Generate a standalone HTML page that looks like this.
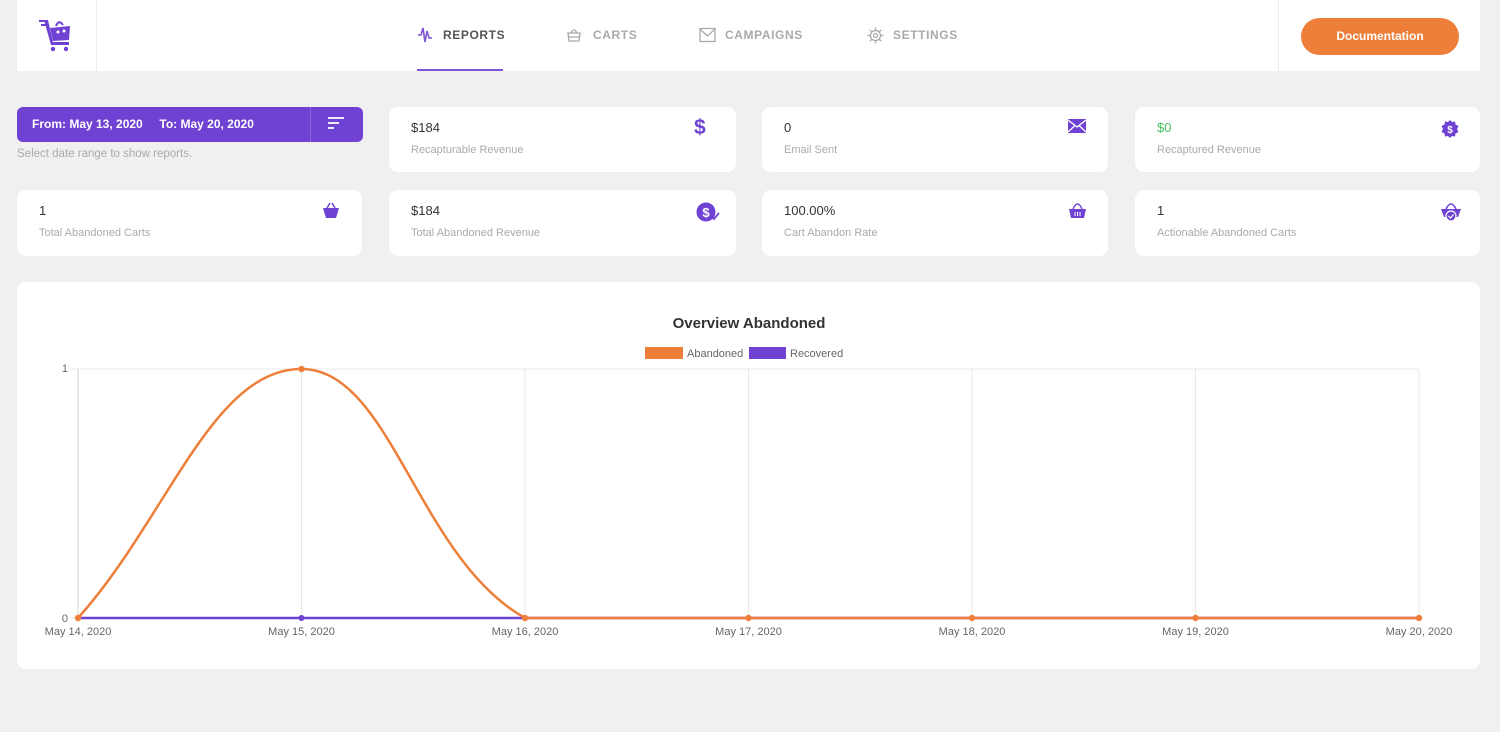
<!DOCTYPE html>
<html><head><meta charset="utf-8">
<style>
*{margin:0;padding:0;box-sizing:border-box}
html,body{width:1500px;height:732px;overflow:hidden;background:#f0f0f0;font-family:"Liberation Sans",sans-serif}
.abs{position:absolute}
.hdr{left:17px;top:0;width:1463px;height:71px;background:#fff}
.nav{top:28px;font-size:12px;font-weight:bold;letter-spacing:0.6px;color:#aaa;line-height:14px}
.card{background:#fff;border-radius:9px;height:65px}
.val{position:absolute;left:22px;top:13px;font-size:13px;color:#333}
.lbl{position:absolute;left:22px;top:37px;font-size:11px;color:#aaa}
.ico{position:absolute;top:12px}
</style></head><body>
<div class="abs hdr"></div>
<div class="abs" style="left:96px;top:0;width:1px;height:71px;background:#ececec"></div>
<div class="abs" style="left:1278px;top:0;width:1px;height:71px;background:#ececec"></div>
<!-- logo -->
<svg class="abs" style="left:36px;top:16px" width="40" height="40" viewBox="0 0 40 40">
<g fill="#6f42d4">
<rect x="3" y="4" width="7" height="2"/><rect x="5" y="8" width="5" height="2"/>
<path d="M8 4 L12 4 L17 26 L33 26 L33 29 L15 29 Z"/>
<path d="M14 12 L34 10 L33 24 L17 25 Z"/>
<circle cx="17" cy="33" r="2.2"/><circle cx="30" cy="33" r="2.2"/>
</g>
<path d="M20 10 Q23 3 27 9" stroke="#6f42d4" stroke-width="2" fill="none"/>
<circle cx="22" cy="16" r="1.5" fill="#fff"/><circle cx="28" cy="15" r="1.5" fill="#fff"/>
</svg>
<!-- nav -->
<svg class="abs" style="left:417px;top:26px" width="16" height="18" viewBox="0 0 16 18"><path d="M1 9 L4 9 L6 2 L8 16 L10 5 L12 12 L15 12" stroke="#7b55d6" stroke-width="1.6" fill="none"/></svg>
<div class="abs nav" style="left:443px;color:#555">REPORTS</div>
<div class="abs" style="left:417px;top:69px;width:86px;height:2px;background:#7b55d6"></div>
<svg class="abs" style="left:566px;top:27px" width="16" height="16" viewBox="0 0 16 16"><path d="M2 6 L14 6 L13 14 L3 14 Z M5 6 Q8 0 11 6 M2 10 L14 10" stroke="#aaa" stroke-width="1.3" fill="none"/></svg>
<div class="abs nav" style="left:593px">CARTS</div>
<svg class="abs" style="left:699px;top:27px" width="17" height="16" viewBox="0 0 17 16"><rect x="1" y="1.5" width="15" height="13" stroke="#aaa" stroke-width="1.3" fill="none"/><path d="M1 2 L8.5 9 L16 2" stroke="#aaa" stroke-width="1.3" fill="none"/></svg>
<div class="abs nav" style="left:725px">CAMPAIGNS</div>
<svg class="abs" style="left:867px;top:27px" width="17" height="17" viewBox="0 0 17 17"><circle cx="8.5" cy="8.5" r="5" stroke="#aaa" stroke-width="1.3" fill="none"/><circle cx="8.5" cy="8.5" r="2" stroke="#aaa" stroke-width="1.2" fill="none"/><path d="M8.5 0.5V3M8.5 14V16.5M0.5 8.5H3M14 8.5H16.5M2.8 2.8L4.6 4.6M12.4 12.4L14.2 14.2M2.8 14.2L4.6 12.4M12.4 4.6L14.2 2.8" stroke="#aaa" stroke-width="1.3"/></svg>
<div class="abs nav" style="left:893px">SETTINGS</div>
<div class="abs" style="left:1301px;top:18px;width:158px;height:37px;border-radius:19px;background:#ee7f3b;color:#fff;font-size:12px;font-weight:bold;text-align:center;line-height:37px">Documentation</div>

<!-- date -->
<div class="abs" style="left:17px;top:107px;width:346px;height:35px;background:#6f42d4;border-radius:6px"></div>
<div class="abs" style="left:310px;top:107px;width:1px;height:35px;background:#8a66dc"></div>
<div class="abs" style="left:32px;top:117px;font-size:12px;font-weight:bold;color:#fff;white-space:pre">From: May 13, 2020     To: May 20, 2020</div>
<svg class="abs" style="left:327px;top:116px" width="18" height="16" viewBox="0 0 18 16"><path d="M1 2H17M1 7H12M1 12H7" stroke="#fff" stroke-width="1.7"/></svg>
<div class="abs" style="left:17px;top:148px;font-size:11.5px;color:#aaa">Select date range to show reports.</div>

<!-- row1 -->
<div class="abs card" style="left:389px;top:107px;width:347px">
<div class="val">$184</div><div class="lbl">Recapturable Revenue</div>
<div class="ico" style="left:305px;top:9px;font-size:21px;font-weight:bold;color:#6f42d4">$</div></div>
<div class="abs card" style="left:762px;top:107px;width:346px">
<div class="val">0</div><div class="lbl">Email Sent</div>
<svg class="ico" style="left:306px" width="18" height="14" viewBox="0 0 18 14"><rect width="18" height="14" fill="#6f42d4"/><path d="M0 1L9 8L18 1M0 13L7 6.5M18 13L11 6.5" stroke="#fff" stroke-width="1.3" fill="none"/></svg></div>
<div class="abs card" style="left:1135px;top:107px;width:345px">
<div class="val" style="color:#3fbf5a">$0</div><div class="lbl">Recaptured Revenue</div>
<svg class="ico" style="left:306px;top:13px" width="18" height="18" viewBox="0 0 18 18"><path d="M9 0L11 2L14 1.5L14.5 4.5L17.5 6L16 9L17.5 12L14.5 13.5L14 16.5L11 16L9 18L7 16L4 16.5L3.5 13.5L0.5 12L2 9L0.5 6L3.5 4.5L4 1.5L7 2Z" fill="#6f42d4"/><text x="9" y="13" font-size="10" font-weight="bold" fill="#fff" text-anchor="middle" font-family="Liberation Sans">$</text></svg></div>

<!-- row2 -->
<div class="abs card" style="left:17px;top:190px;width:345px;height:66px">
<div class="val">1</div><div class="lbl">Total Abandoned Carts</div>
<svg class="ico" style="left:305px;top:12px" width="18" height="17" viewBox="0 0 18 17"><path d="M1 6H17L14 16H4Z" fill="#6f42d4"/><path d="M5 6L8 1M13 6L10 1" stroke="#6f42d4" stroke-width="1.5"/></svg></div>
<div class="abs card" style="left:389px;top:190px;width:347px;height:66px">
<div class="val">$184</div><div class="lbl">Total Abandoned Revenue</div>
<svg class="ico" style="left:307px;top:12px" width="24" height="20" viewBox="0 0 24 20"><circle cx="10" cy="10" r="9.5" fill="#6f42d4"/><text x="10" y="15" font-size="13" font-weight="bold" fill="#fff" text-anchor="middle" font-family="Liberation Sans">$</text><path d="M15 14L18 17L23 11" stroke="#6f42d4" stroke-width="1.8" fill="none"/></svg></div>
<div class="abs card" style="left:762px;top:190px;width:346px;height:66px">
<div class="val">100.00%</div><div class="lbl">Cart Abandon Rate</div>
<svg class="ico" style="left:306px;top:12px" width="19" height="17" viewBox="0 0 19 17"><path d="M1 7H18L16 16H3Z" fill="#6f42d4"/><path d="M5 7Q9.5 -3 14 7" stroke="#6f42d4" stroke-width="1.4" fill="none"/><path d="M7 10V14M9.5 10V14M12 10V14" stroke="#fff" stroke-width="1"/></svg></div>
<div class="abs card" style="left:1135px;top:190px;width:345px;height:66px">
<div class="val">1</div><div class="lbl">Actionable Abandoned Carts</div>
<svg class="ico" style="left:305px;top:11px" width="22" height="22" viewBox="0 0 22 22"><path d="M1 8H21L18 16H4Z" fill="#6f42d4"/><path d="M6 8Q11 -2 16 8" stroke="#6f42d4" stroke-width="1.6" fill="none"/><circle cx="11" cy="15" r="5" fill="#6f42d4" stroke="#fff" stroke-width="1.2"/><path d="M8.5 15L10.5 17L13.5 13.5" stroke="#fff" stroke-width="1.2" fill="none"/></svg></div>

<!-- chart card -->
<div class="abs" style="left:17px;top:282px;width:1463px;height:387px;background:#fff;border-radius:9px"></div>
<svg class="abs" style="left:0;top:0" width="1500" height="732" viewBox="0 0 1500 732" font-family="Liberation Sans">
<text x="749" y="328" font-size="15" font-weight="bold" fill="#333" text-anchor="middle">Overview Abandoned</text>
<rect x="645" y="347" width="38" height="12" fill="#ee7f3b"/>
<text x="687" y="357" font-size="11" fill="#666">Abandoned</text>
<rect x="749" y="347" width="37" height="12" fill="#6f42d4"/>
<text x="790" y="357" font-size="11" fill="#666">Recovered</text>
<g stroke="#e8e8e8" stroke-width="1">
<line x1="78" y1="369" x2="1419" y2="369"/>
<line x1="301.5" y1="369" x2="301.5" y2="618"/>
<line x1="525" y1="369" x2="525" y2="618"/>
<line x1="748.5" y1="369" x2="748.5" y2="618"/>
<line x1="972" y1="369" x2="972" y2="618"/>
<line x1="1195.5" y1="369" x2="1195.5" y2="618"/>
<line x1="1419" y1="369" x2="1419" y2="618"/>
<line x1="70" y1="369" x2="78" y2="369"/>
<line x1="70" y1="618" x2="78" y2="618"/>
</g>
<line x1="78" y1="369" x2="78" y2="618" stroke="#d0d0d0"/>
<text x="68" y="372" font-size="11" fill="#666" text-anchor="end">1</text>
<text x="68" y="622" font-size="11" fill="#666" text-anchor="end">0</text>
<g font-size="11" fill="#666" text-anchor="middle">
<text x="78" y="635">May 14, 2020</text>
<text x="301.5" y="635">May 15, 2020</text>
<text x="525" y="635">May 16, 2020</text>
<text x="748.5" y="635">May 17, 2020</text>
<text x="972" y="635">May 18, 2020</text>
<text x="1195.5" y="635">May 19, 2020</text>
<text x="1419" y="635">May 20, 2020</text>
</g>
<line x1="78" y1="618" x2="1419" y2="618" stroke="#6f42d4" stroke-width="2.5"/>
<circle cx="301.5" cy="618" r="3" fill="#6f42d4"/>
<path d="M78,618 C167.4,518.4 212.1,369 301.5,369 C390.9,369 417.8,558.3 525,618 L1419,618" stroke="#ee7f3b" stroke-width="2.5" fill="none"/>
<g fill="#ee7f3b">
<circle cx="78" cy="618" r="3.2"/><circle cx="301.5" cy="369" r="3.2"/><circle cx="525" cy="618" r="3.2"/>
<circle cx="748.5" cy="618" r="3.2"/><circle cx="972" cy="618" r="3.2"/><circle cx="1195.5" cy="618" r="3.2"/><circle cx="1419" cy="618" r="3.2"/>
</g>
</svg>
</body></html>
